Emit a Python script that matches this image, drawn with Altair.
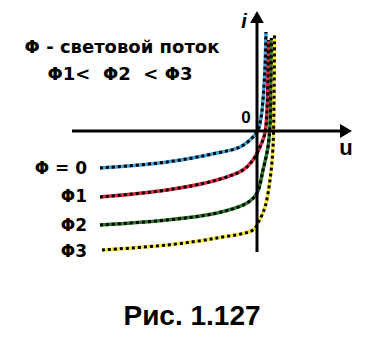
import altair as alt
import pandas as pd

# curve data (u, i) in arbitrary units
series = ["Φ = 0", "Φ1", "Φ2", "Φ3"]
colors = ["#3fa0dc", "#e0283c", "#2a7a2a", "#f5e63a"]
u_blue = [-157, -90, -40, -17, -4, 1, 4, 6, 8, 9]
i_blue = [-37, -31, -22, -16, -6, 1, 13, 31, 64, 99]
u_red = [-157, -90, -40, -14, -4, 3, 8, 10, 11, 11.5]
i_red = [-66, -59, -49, -39, -29, -16, -2, 21, 56, 91]
u_green = [-157, -90, -40, -10, 0, 6, 11, 13, 14, 14.5]
i_green = [-94, -89, -82, -72, -62, -39, -16, 6, 51, 93]
u_yellow = [-155, -90, -40, -4, 1, 8, 13, 16, 17, 17.5]
i_yellow = [-119, -114, -107, -99, -92, -76, -49, -16, 31, 96]

label_u = [-170, -170, -170, -170]
label_i = [-38, -66, -95, -121]

title_lines = ["Φ - световой поток", "Φ1<\u00a0\u00a0Φ2\u00a0\u00a0< Φ3"]
title_u = [-135, -137]
title_i = [83, 56]

caption = "Рис. 1.127"

rows = []
for name, us, is_ in zip(series, [u_blue, u_red, u_green, u_yellow],
                         [i_blue, i_red, i_green, i_yellow]):
    for k, (u, i) in enumerate(zip(us, is_)):
        rows.append({"s": name, "u": u, "i": i, "k": k})
df = pd.DataFrame(rows)

xs = alt.Scale(domain=[-249, 103], nice=False, zero=False)
ys = alt.Scale(domain=[-200, 123], nice=False, zero=False)
X = lambda f: alt.X(f, type="quantitative", scale=xs, axis=None)
Y = lambda f: alt.Y(f, type="quantitative", scale=ys, axis=None)

# axes drawn as rules + arrowheads
x_axis = alt.Chart(pd.DataFrame({"u": [-185], "u2": [86], "i": [0]})).mark_rule(
    color="black", strokeWidth=3).encode(x=X("u"), x2="u2", y=Y("i"))
y_axis = alt.Chart(pd.DataFrame({"u": [0], "i": [-121], "i2": [110]})).mark_rule(
    color="black", strokeWidth=3).encode(x=X("u"), y=Y("i"), y2="i2")
arrow_x = alt.Chart(pd.DataFrame({"u": [89], "i": [0]})).mark_point(
    shape="triangle-right", filled=True, color="black", size=190, opacity=1).encode(x=X("u"), y=Y("i"))
arrow_y = alt.Chart(pd.DataFrame({"u": [0], "i": [114]})).mark_point(
    shape="triangle-up", filled=True, color="black", size=190, opacity=1).encode(x=X("u"), y=Y("i"))

base = alt.Chart(df)
col_lines = base.mark_line(strokeWidth=3.5, interpolate="catmull-rom").encode(
    x=X("u"), y=Y("i"), order="k:Q",
    color=alt.Color("s:N", scale=alt.Scale(domain=series, range=colors), legend=None))
dash_lines = base.mark_line(strokeWidth=3, color="black", strokeDash=[3, 3],
                            interpolate="catmull-rom").encode(
    x=X("u"), y=Y("i"), order="k:Q", detail="s:N")

font = "DejaVu Sans"
labels = alt.Chart(pd.DataFrame({"t": series, "u": label_u, "i": label_i})).mark_text(
    align="right", baseline="middle", font=font, fontSize=17, fontWeight="bold", color="black"
).encode(x=X("u"), y=Y("i"), text="t:N")

titles = alt.Chart(pd.DataFrame({"t": title_lines, "u": title_u, "i": title_i})).mark_text(
    align="center", baseline="middle", font=font, fontSize=18, fontWeight="bold", color="black"
).encode(x=X("u"), y=Y("i"), text="t:N")

zero_lbl = alt.Chart(pd.DataFrame({"t": ["0"], "u": [-11], "i": [13]})).mark_text(
    align="center", baseline="middle", font="Liberation Sans", fontSize=17, fontWeight="bold", color="black"
).encode(x=X("u"), y=Y("i"), text="t:N")
i_lbl = alt.Chart(pd.DataFrame({"t": ["i"], "u": [-13], "i": [109]})).mark_text(
    align="center", baseline="middle", font="Liberation Sans", fontSize=20, fontStyle="italic", fontWeight="bold", color="black"
).encode(x=X("u"), y=Y("i"), text="t:N")
u_lbl = alt.Chart(pd.DataFrame({"t": ["u"], "u": [89], "i": [-17]})).mark_text(
    align="center", baseline="middle", font="Liberation Sans", fontSize=22, fontWeight="bold", color="black"
).encode(x=X("u"), y=Y("i"), text="t:N")
cap = alt.Chart(pd.DataFrame({"t": [caption], "u": [-65], "i": [-194]})).mark_text(
    align="center", baseline="alphabetic", font="Liberation Sans", fontSize=28, fontWeight="bold", color="black"
).encode(x=X("u"), y=Y("i"), text="t:N")

chart = alt.layer(
    col_lines, dash_lines, x_axis, y_axis, arrow_x, arrow_y,
    labels, titles, zero_lbl, i_lbl, u_lbl, cap
).properties(width=352, height=323, padding=0, autosize="none", background="white"
).configure_view(stroke=None)

chart.save("out.html", embed_options={"renderer": "svg", "actions": False})
